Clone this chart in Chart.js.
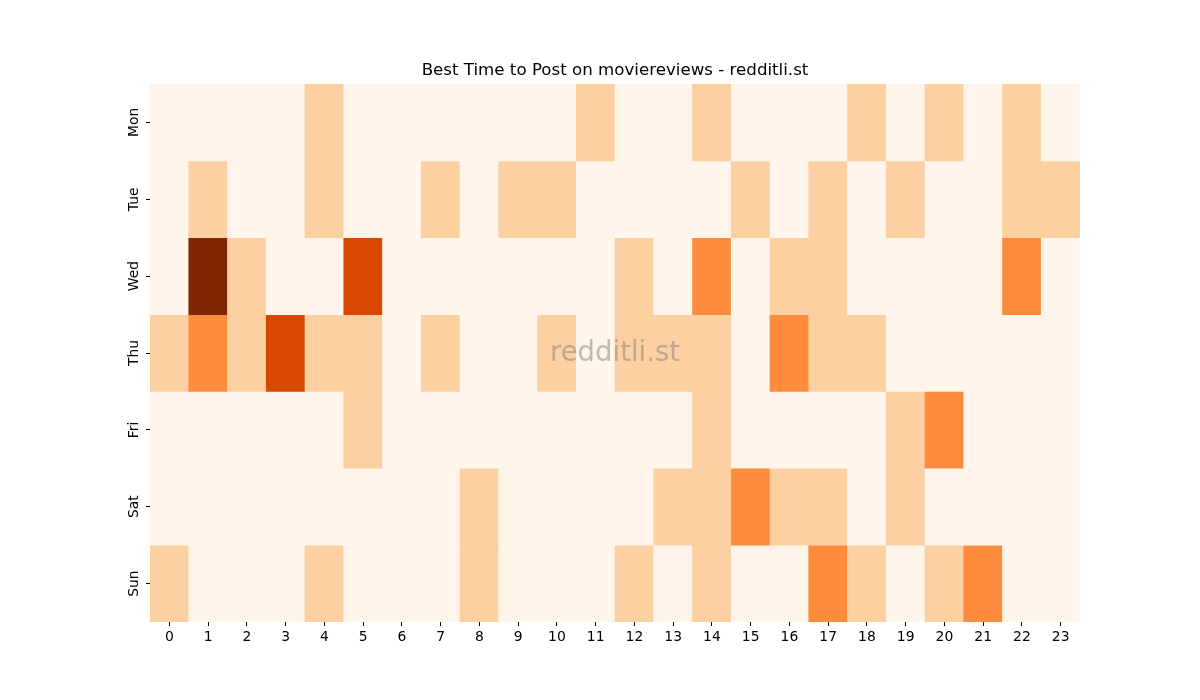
<!DOCTYPE html>
<html>
<head>
<meta charset="utf-8">
<script src="https://cdn.jsdelivr.net/npm/chart.js@4/dist/chart.umd.min.js"></script>
<style>
html,body{margin:0;padding:0;background:#fff;}
#wrap{width:1200px;height:700px;}
</style>
</head>
<body>
<div id="wrap"><canvas id="c" width="1200" height="700"></canvas></div>
<script>
const hours = ['0','1','2','3','4','5','6','7','8','9','10','11','12','13','14','15','16','17','18','19','20','21','22','23'];
const days = ['Mon','Tue','Wed','Thu','Fri','Sat','Sun'];
const monValues = [0,0,0,0,1,0,0,0,0,0,0,1,0,0,1,0,0,0,1,0,1,0,1,0];
const tueValues = [0,1,0,0,1,0,0,1,0,1,1,0,0,0,0,1,0,1,0,1,0,0,1,1];
const wedValues = [0,4,1,0,0,3,0,0,0,0,0,0,1,0,2,0,1,1,0,0,0,0,2,0];
const thuValues = [1,2,1,3,1,1,0,1,0,0,1,0,1,1,1,0,2,1,1,0,0,0,0,0];
const friValues = [0,0,0,0,0,1,0,0,0,0,0,0,0,0,1,0,0,0,0,1,2,0,0,0];
const satValues = [0,0,0,0,0,0,0,0,1,0,0,0,0,1,1,2,1,1,0,1,0,0,0,0];
const sunValues = [1,0,0,0,1,0,0,0,1,0,0,0,1,0,1,0,0,2,1,0,1,2,0,0];
const rows = [monValues, tueValues, wedValues, thuValues, friValues, satValues, sunValues];
const palette = ['#fff5eb','#fdd0a2','#fd8d3c','#d94801','#7f2704'];

const datasets = rows.map((vals, r) => ({
  label: days[r],
  data: vals.map(() => [r, r + 1]),
  backgroundColor: vals.map(v => palette[v]),
  borderWidth: 0,
  barPercentage: 1,
  categoryPercentage: 1,
  grouped: false
}));

const watermark = {
  id: 'watermark',
  afterDatasetsDraw(chart) {
    const a = chart.chartArea;
    const ctx = chart.ctx;
    ctx.save();
    ctx.font = '27.5px "DejaVu Sans"';
    ctx.fillStyle = 'rgba(128,128,128,0.5)';
    ctx.textAlign = 'center';
    ctx.textBaseline = 'middle';
    ctx.fillText('redditli.st', (a.left + a.right) / 2, (a.top + a.bottom) / 2 + 1);
    ctx.restore();
  }
};

new Chart(document.getElementById('c'), {
  type: 'bar',
  data: { labels: hours, datasets },
  plugins: [watermark],
  options: {
    responsive: false,
    animation: false,
    layout: { padding: { left: 0, right: 120, top: 0, bottom: 0 } },
    plugins: {
      legend: { display: false },
      tooltip: { enabled: false },
      title: {
        display: true,
        fullSize: false,
        text: 'Best Time to Post on moviereviews - redditli.st',
        color: '#000',
        font: { family: 'DejaVu Sans', size: 16.67, weight: 'normal' },
        padding: { top: 61, bottom: 3 }
      }
    },
    scales: {
      x: {
        offset: true,
        grid: { display: true, drawOnChartArea: false, drawTicks: true, tickLength: 4, color: '#000', offset: false },
        border: { display: false },
        ticks: { color: '#000', font: { family: 'DejaVu Sans', size: 13.9 }, padding: 3, maxRotation: 0, autoSkip: false },
        afterFit(s) { s.height = 78; }
      },
      y: {
        type: 'linear',
        min: 0, max: 7,
        reverse: true,
        grid: { display: true, drawOnChartArea: false, drawTicks: true, tickLength: 4, color: '#000' },
        border: { display: false },
        afterBuildTicks(s) { s.ticks = [0.5,1.5,2.5,3.5,4.5,5.5,6.5].map(v => ({ value: v })); },
        ticks: {
          color: '#000', font: { family: 'DejaVu Sans', size: 13.9 }, padding: -4,
          minRotation: 90, maxRotation: 90, crossAlign: 'center',
          callback: (v, i) => days[i]
        },
        afterFit(s) { s.width = 150; }
      }
    }
  }
});
</script>
</body>
</html>
